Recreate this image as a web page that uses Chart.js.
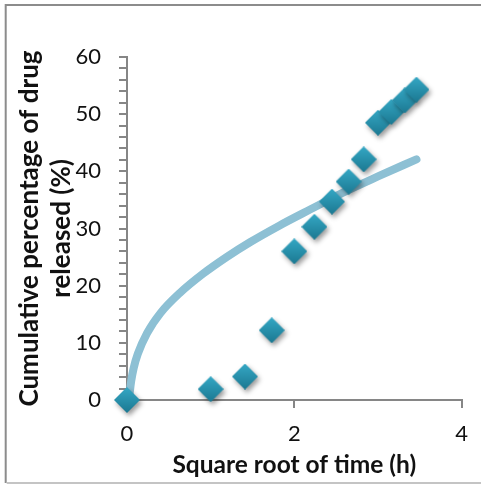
<!DOCTYPE html>
<html>
<head>
<meta charset="utf-8">
<script src="https://cdn.jsdelivr.net/npm/chart.js@4"></script>
<style>
  html, body { margin: 0; padding: 0; background: #fff; }
  #wrap { width: 481px; height: 484px; }
</style>
</head>
<body>
<div id="wrap"><canvas id="chart" width="481" height="484"></canvas></div>
<script>
// measured points (sqrt of time, cumulative % released)
const sqrtTime = [0, 1, 1.41, 1.73, 2, 2.24, 2.45, 2.65, 2.83, 3, 3.16, 3.32, 3.46];
const released = [0, 1.9, 4.1, 12.2, 26.0, 30.3, 34.7, 38.2, 42.1, 48.5, 50.4, 52.4, 54.3];

// trend curve
const trendX = [0.03, 0.05, 0.08, 0.13, 0.24, 0.40, 0.63, 0.91, 1.19, 1.47, 1.82, 2.2, 2.6, 3.0, 3.46];
const trendY = [1.0, 3.3, 5.6, 8.1, 11.7, 15.2, 18.7, 22.1, 25.0, 27.6, 30.5, 33.4, 36.4, 39.1, 42.1];

const yTicksShown = [0, 10, 20, 30, 40, 50, 60];
const xTicksShown = [0, 2, 4];

const FONT = 'Lato, "Open Sans", sans-serif';

// diamond marker with a top-to-bottom gradient
function makeDiamond(size) {
    const c = document.createElement('canvas');
    c.width = size; c.height = size;
    const g = c.getContext('2d');
    const h = size / 2;
    const grad = g.createLinearGradient(0, 0, 0, size);
    grad.addColorStop(0, '#35a8c5');
    grad.addColorStop(1, '#1b7891');
    g.fillStyle = grad;
    g.beginPath();
    g.moveTo(h, 0); g.lineTo(size, h); g.lineTo(h, size); g.lineTo(0, h);
    g.closePath();
    g.fill();
    return c;
}

const shadowPlugin = {
    id: 'markerShadow',
    beforeDatasetDraw(chart, args) {
        if (args.meta.type !== 'scatter') return;
        const ctx = chart.ctx;
        ctx.save();
        ctx.shadowColor = 'rgba(0,0,0,0.4)';
        ctx.shadowBlur = 5;
        ctx.shadowOffsetX = 2;
        ctx.shadowOffsetY = 3;
    },
    afterDatasetDraw(chart, args) {
        if (args.meta.type !== 'scatter') return;
        chart.ctx.restore();
    }
};

const framePlugin = {
    id: 'frame',
    afterDraw(chart) {
        const ctx = chart.ctx;
        ctx.save();
        ctx.lineWidth = 2;
        ctx.strokeStyle = '#8c8c8c';
        ctx.beginPath();
        ctx.moveTo(481, 5); ctx.lineTo(5.7, 5); ctx.lineTo(5.7, 483);
        ctx.stroke();
        ctx.strokeStyle = '#c4c4c4';
        ctx.beginPath();
        ctx.moveTo(6.7, 483); ctx.lineTo(481, 483);
        ctx.stroke();
        ctx.restore();
    }
};

new Chart(document.getElementById('chart'), {
    type: 'scatter',
    data: {
        datasets: [
            {
                type: 'scatter',
                data: sqrtTime.map((x, i) => ({ x, y: released[i] })),
                pointStyle: makeDiamond(26),
                pointRadius: 13,
                order: 0,
                clip: false
            },
            {
                type: 'line',
                data: trendX.map((x, i) => ({ x, y: trendY[i] })),
                borderColor: '#8dc0d4',
                borderWidth: 8,
                borderCapStyle: 'round',
                borderJoinStyle: 'round',
                cubicInterpolationMode: 'monotone',
                pointRadius: 0,
                fill: false,
                order: 1,
                clip: false
            }
        ]
    },
    options: {
        responsive: false,
        animation: false,
        layout: { padding: { left: 10, right: 18, top: 57, bottom: 6 } },
        plugins: { legend: { display: false }, tooltip: { enabled: false } },
        scales: {
            x: {
                type: 'linear',
                min: 0, max: 4,
                afterFit(s) { s.height = 78; },
                border: { color: '#868686', width: 2 },
                grid: { drawOnChartArea: false, tickLength: 8, color: '#868686', lineWidth: 2 },
                ticks: {
                    stepSize: 2, padding: 13, color: '#111',
                    font: { family: FONT, size: 22 },
                    callback: v => xTicksShown.includes(v) ? String(v) : ''
                },
                title: {
                    display: true,
                    text: 'Square root of time (h)',
                    color: '#111',
                    font: { family: FONT, size: 24.5, weight: 'bold', lineHeight: '26px' },
                    padding: { top: 0, bottom: 0 }
                }
            },
            y: {
                min: 0, max: 60,
                afterFit(s) { s.width = 117; },
                border: { color: '#868686', width: 2 },
                grid: { drawOnChartArea: false, tickLength: 8, color: '#868686', lineWidth: 2 },
                ticks: {
                    stepSize: 2, padding: 18, color: '#111', autoSkip: false,
                    font: { family: FONT, size: 22 },
                    callback: v => yTicksShown.includes(v) ? String(v) : ''
                },
                title: {
                    display: true,
                    text: ['Cumulative percentage of drug', 'released (%)'],
                    color: '#111',
                    font: { family: FONT, size: 26, weight: 'bold', lineHeight: '32px' },
                    padding: { top: 4, bottom: 0 }
                }
            }
        }
    },
    plugins: [shadowPlugin, framePlugin]
});
</script>
</body>
</html>
